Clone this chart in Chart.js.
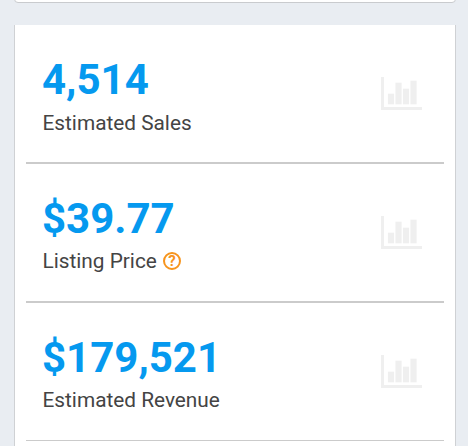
<!DOCTYPE html>
<html>
<head>
<meta charset="utf-8">
<script src="https://cdn.jsdelivr.net/npm/chart.js@4"></script>
<style>
  html, body { margin: 0; padding: 0; width: 468px; height: 446px; overflow: hidden; background: #e9edf2; font-family: Roboto, sans-serif; }
  .top-card { position: absolute; left: 14px; top: -8px; width: 440px; height: 9px; background: #fff; border: 1px solid #c9cbce; border-radius: 4px; }
  .card { position: absolute; left: 14px; top: 25px; width: 440px; height: 430px; background: #fff; border-left: 1px solid #cfd1d4; border-right: 1px solid #cfd1d4; }
  .value { position: absolute; left: 42px; font-size: 42px; font-weight: 700; line-height: 52px; color: #0599ef; white-space: nowrap; }
  .label { position: absolute; left: 42.5px; font-size: 20.8px; line-height: 24px; color: #444; white-space: nowrap; }
  .rule { position: absolute; left: 26px; width: 418px; height: 2px; background: #cbcbcb; }
  .help { position: absolute; left: 120.5px; top: 3px; box-sizing: border-box; width: 18px; height: 18px; border: 2px solid #f7941d; border-radius: 50%; color: #f7941d; font-size: 15px; font-weight: 700; line-height: 14px; text-align: center; }
  .icon { position: absolute; left: 379px; width: 43px; height: 34px; }
</style>
</head>
<body>
<div class="top-card"></div>
<div class="card"></div>

<div class="value" style="top:54px">4,514</div>
<div class="label" style="top:111px">Estimated Sales</div>
<div class="rule" style="top:162px"></div>
<div class="icon" style="top:77px"><canvas id="icon-0"></canvas></div>

<div class="value" style="top:193px">$39.77</div>
<div class="label" style="top:249px">Listing Price <span class="help">?</span></div>
<div class="rule" style="top:301px"></div>
<div class="icon" style="top:216px"><canvas id="icon-1"></canvas></div>

<div class="value" style="top:332px">$179,521</div>
<div class="label" style="top:388px">Estimated Revenue</div>
<div class="rule" style="top:440px; height:1px"></div>
<div class="icon" style="top:355px"><canvas id="icon-2"></canvas></div>

<script>
const barPositions = [1, 2, 3, 4];
const barValues = [10, 21, 15, 23];
const iconColor = "#efefef";

// each stat row has the same faded little bar chart on the right
function drawIcon(id) {
  new Chart(document.getElementById(id), {
    type: "bar",
    data: {
      datasets: [{
        data: barPositions.map((x, i) => ({ x: x, y: barValues[i] })),
        backgroundColor: iconColor,
        barThickness: 5.5,
      }],
    },
    options: {
      responsive: true,
      maintainAspectRatio: false,
      animation: false,
      scales: {
        x: {
          type: "linear",
          offset: false,
          min: -0.2,
          max: 5.13,
          grid: { display: false },
          ticks: { display: false },
          border: { color: iconColor, width: 3 },
          afterFit(scale) { scale.height = 3; },
        },
        y: {
          min: -4,
          max: 27,
          grid: { display: false },
          ticks: { display: false },
          border: { color: iconColor, width: 3 },
          afterFit(scale) { scale.width = 3; },
        },
      },
      plugins: { legend: { display: false }, tooltip: { enabled: false } },
    },
  });
}

["icon-0", "icon-1", "icon-2"].forEach(drawIcon);
</script>
</body>
</html>
